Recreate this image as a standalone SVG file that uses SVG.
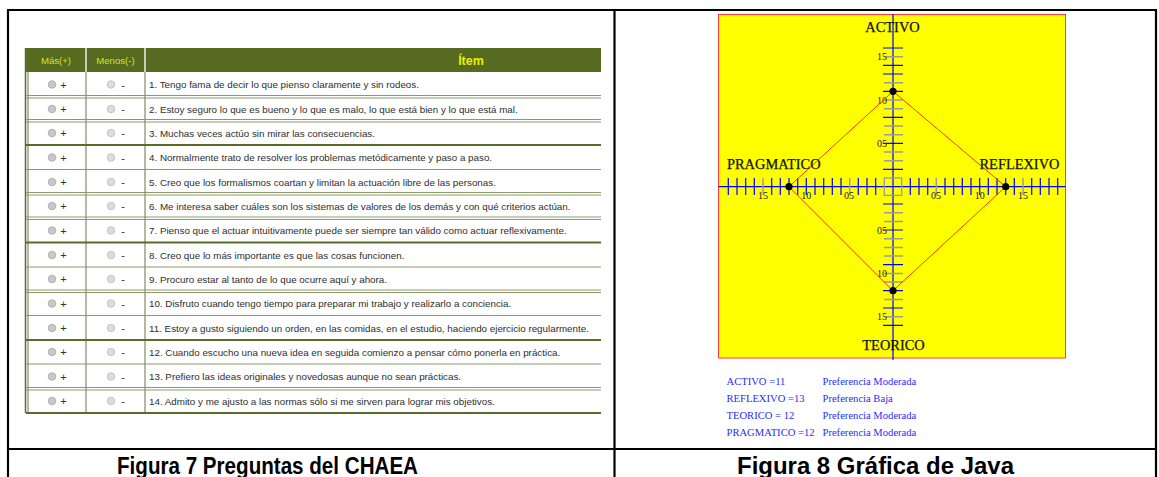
<svg xmlns="http://www.w3.org/2000/svg" width="1159" height="477" viewBox="0 0 1159 477">
<style>
.frame{stroke:#000;stroke-width:2.2;fill:none}
.hdr{font-family:"Liberation Sans",Arial,sans-serif;font-size:9.6px;fill:#d8e020;text-anchor:middle}
.item{font-family:"Liberation Sans",Arial,sans-serif;font-size:12.5px;font-weight:bold;fill:#e6f000;text-anchor:middle}
.row{font-family:"Liberation Sans",Arial,sans-serif;font-size:9.8px;fill:#2e2e2e}
.sym{font-family:"Liberation Sans",Arial,sans-serif;font-size:11px;fill:#333;text-anchor:middle}
.rb1{fill:#c8c8c8;stroke:#a8a8a8;stroke-width:0.8}
.rb2{fill:#dcdcdc;stroke:#bcbcbc;stroke-width:0.8}
.sepd{stroke:#8c9a6a;stroke-width:1;fill:none}
.sepk{stroke:#5a6b2a;stroke-width:2;fill:none}
.sepl{stroke:#8c9a6a;stroke-width:1.2;fill:none}
.col{stroke:#b4b8a4;stroke-width:2;fill:none}
.lbl{font-family:"Liberation Serif","Times New Roman",serif;font-size:14.4px;fill:#111;stroke:#111;stroke-width:0.25}
.tk{font-family:"Liberation Serif","Times New Roman",serif;font-size:10px;fill:#222}
.leg{font-family:"Liberation Serif","Times New Roman",serif;font-size:10.6px;fill:#2a2aff}
.cap{font-family:"Liberation Sans",Arial,sans-serif;font-weight:bold;font-size:24px;fill:#000}
</style>
<rect width="1159" height="477" fill="#fff"/>
<g id="frame">
<path class="frame" d="M7 10H1157M8 10V477M614.5 10V477M1156 10V477M7 449H1157"/>
</g>
<g id="table">
<rect x="25" y="48" width="576" height="24" fill="#566b1f"/>
<path d="M86 48V72M145 48V72" stroke="#c8ccb8" stroke-width="2"/>
<text class="hdr" x="56" y="64">Más(+)</text>
<text class="hdr" x="115.5" y="64">Menos(-)</text>
<text class="item" x="471" y="65">Ítem</text>
<path d="M25.5 48V413" stroke="#5a6b2a" stroke-width="1.5"/>
<path class="col" d="M28 72V413M86 72V413M145 72V413"/>
<g id="separators">
<path class="sepd" d="M26 95.5H601M26 98H601"/>
<path class="sepd" d="M26 119.5H601M26 122H601"/>
<path class="sepk" d="M26 145H601"/>
<path class="sepl" d="M26 169.5H601"/>
<path class="sepd" d="M26 192.5H601M26 195H601"/>
<path class="sepd" d="M26 217H601M26 219.5H601"/>
<path class="sepk" d="M26 242.5H601"/>
<path class="sepl" d="M26 267H601"/>
<path class="sepd" d="M26 290H601M26 292.5H601"/>
<path class="sepl" d="M26 315.5H601"/>
<path class="sepk" d="M26 340H601"/>
<path class="sepl" d="M26 364H601"/>
<path class="sepd" d="M26 387.5H601M26 390H601"/>
<path class="sepk" d="M26 413H601"/>
</g>
<g id="radios">
<circle class="rb1" cx="52" cy="84.5" r="3.8"/><circle class="rb2" cx="111" cy="84.5" r="3.8"/>
<circle class="rb1" cx="52" cy="109" r="3.8"/><circle class="rb2" cx="111" cy="109" r="3.8"/>
<circle class="rb1" cx="52" cy="133" r="3.8"/><circle class="rb2" cx="111" cy="133" r="3.8"/>
<circle class="rb1" cx="52" cy="157.5" r="3.8"/><circle class="rb2" cx="111" cy="157.5" r="3.8"/>
<circle class="rb1" cx="52" cy="182" r="3.8"/><circle class="rb2" cx="111" cy="182" r="3.8"/>
<circle class="rb1" cx="52" cy="206" r="3.8"/><circle class="rb2" cx="111" cy="206" r="3.8"/>
<circle class="rb1" cx="52" cy="230.5" r="3.8"/><circle class="rb2" cx="111" cy="230.5" r="3.8"/>
<circle class="rb1" cx="52" cy="255" r="3.8"/><circle class="rb2" cx="111" cy="255" r="3.8"/>
<circle class="rb1" cx="52" cy="279" r="3.8"/><circle class="rb2" cx="111" cy="279" r="3.8"/>
<circle class="rb1" cx="52" cy="303.5" r="3.8"/><circle class="rb2" cx="111" cy="303.5" r="3.8"/>
<circle class="rb1" cx="52" cy="328" r="3.8"/><circle class="rb2" cx="111" cy="328" r="3.8"/>
<circle class="rb1" cx="52" cy="352" r="3.8"/><circle class="rb2" cx="111" cy="352" r="3.8"/>
<circle class="rb1" cx="52" cy="376.5" r="3.8"/><circle class="rb2" cx="111" cy="376.5" r="3.8"/>
<circle class="rb1" cx="52" cy="401" r="3.8"/><circle class="rb2" cx="111" cy="401" r="3.8"/>
</g>
<g id="signs">
<text class="sym" x="63.5" y="88.5">+</text><text class="sym" x="123" y="88.5">-</text>
<text class="sym" x="63.5" y="113">+</text><text class="sym" x="123" y="113">-</text>
<text class="sym" x="63.5" y="137">+</text><text class="sym" x="123" y="137">-</text>
<text class="sym" x="63.5" y="161.5">+</text><text class="sym" x="123" y="161.5">-</text>
<text class="sym" x="63.5" y="186">+</text><text class="sym" x="123" y="186">-</text>
<text class="sym" x="63.5" y="210">+</text><text class="sym" x="123" y="210">-</text>
<text class="sym" x="63.5" y="234.5">+</text><text class="sym" x="123" y="234.5">-</text>
<text class="sym" x="63.5" y="259">+</text><text class="sym" x="123" y="259">-</text>
<text class="sym" x="63.5" y="283">+</text><text class="sym" x="123" y="283">-</text>
<text class="sym" x="63.5" y="307.5">+</text><text class="sym" x="123" y="307.5">-</text>
<text class="sym" x="63.5" y="332">+</text><text class="sym" x="123" y="332">-</text>
<text class="sym" x="63.5" y="356">+</text><text class="sym" x="123" y="356">-</text>
<text class="sym" x="63.5" y="380.5">+</text><text class="sym" x="123" y="380.5">-</text>
<text class="sym" x="63.5" y="405">+</text><text class="sym" x="123" y="405">-</text>
</g>
<g id="items">
<text class="row" x="149" y="88">1. Tengo fama de decir lo que pienso claramente y sin rodeos.</text>
<text class="row" x="149" y="112.5">2. Estoy seguro lo que es bueno y lo que es malo, lo que está bien y lo que está mal.</text>
<text class="row" x="149" y="136.5">3. Muchas veces actúo sin mirar las consecuencias.</text>
<text class="row" x="149" y="161">4. Normalmente trato de resolver los problemas metódicamente y paso a paso.</text>
<text class="row" x="149" y="185.5">5. Creo que los formalismos coartan y limitan la actuación libre de las personas.</text>
<text class="row" x="149" y="209.5">6. Me interesa saber cuáles son los sistemas de valores de los demás y con qué criterios actúan.</text>
<text class="row" x="149" y="234">7. Pienso que el actuar intuitivamente puede ser siempre tan válido como actuar reflexivamente.</text>
<text class="row" x="149" y="258.5">8. Creo que lo más importante es que las cosas funcionen.</text>
<text class="row" x="149" y="282.5">9. Procuro estar al tanto de lo que ocurre aquí  y ahora.</text>
<text class="row" x="149" y="307">10. Disfruto cuando tengo tiempo para preparar mi trabajo y realizarlo a conciencia.</text>
<text class="row" x="149" y="331.5">11. Estoy a gusto siguiendo un orden, en las comidas, en el estudio, haciendo ejercicio regularmente.</text>
<text class="row" x="149" y="355.5">12. Cuando escucho una nueva idea en seguida comienzo a pensar cómo ponerla en práctica.</text>
<text class="row" x="149" y="380">13. Prefiero las ideas originales y novedosas aunque no sean prácticas.</text>
<text class="row" x="149" y="404.5">14. Admito y me ajusto a las normas sólo si me sirven para lograr mis objetivos.</text>
</g>
</g>
<g id="chart">
<rect x="718.5" y="14.5" width="347" height="343.5" fill="#ffff00" stroke="#ff3a3a" stroke-width="1"/>
<path d="M893 14V360M718.5 186.7H1065.5" stroke="#0000ff" stroke-width="1.2" fill="none"/>
<path stroke="#0000ff" stroke-width="1.2" fill="none" d="M728.3 178V195M737 178V195M745.7 178V195M754.3 178V195M771.7 178V195M780.3 178V195M789 178V195M797.7 178V195M806.3 178V195M815 178V195M823.7 178V195M832.3 178V195M841 178V195M858.3 178V195M867 178V195M875.7 178V195M910.3 178V195M919 178V195M927.7 178V195M945 178V195M953.7 178V195M962.3 178V195M971 178V195M979.7 178V195M988.3 178V195M997 178V195M1005.7 178V195M1014.3 178V195M1031.7 178V195M1040.3 178V195M1049 178V195M1057.7 178V195"/>
<path stroke="#999" stroke-width="1.4" fill="none" d="M763 178V195M849.7 178V195M936.3 178V195M1023 178V195"/>
<path stroke="#0000ff" stroke-width="1.2" fill="none" d="M883 48H903M883 65.4H903M883 74H903M883 91.4H903M883 117.4H903M883 143.4H903M883 169.4H903M883 204H903M883 230H903M883 264.7H903M883 290.7H903M883 308H903M883 325.4H903"/>
<path stroke="#9a9a9a" stroke-width="1.5" fill="none" d="M884 56.7H903M884 82.7H903M884 100H903M884 108.7H903M884 126H903M884 134.7H903M884 152H903M884 160.7H903M884 212.7H903M884 221.4H903M884 238.7H903M884 247.4H903M884 256H903M884 273.4H903M884 282H903M884 299.4H903M884 316.7H903"/>
<rect x="884.3" y="178" width="17.4" height="17.4" fill="none" stroke="#9a9a9a" stroke-width="1.3"/>
<g id="tick-labels">
<text class="tk" x="763" y="198.5" text-anchor="middle">15</text>
<text class="tk" x="806.3" y="198.5" text-anchor="middle">10</text>
<text class="tk" x="849" y="198.5" text-anchor="middle">05</text>
<text class="tk" x="936" y="198.5" text-anchor="middle">05</text>
<text class="tk" x="979.7" y="198.5" text-anchor="middle">10</text>
<text class="tk" x="1023" y="198.5" text-anchor="middle">15</text>
<text class="tk" x="887" y="60.2" text-anchor="end">15</text>
<text class="tk" x="887" y="103.5" text-anchor="end">10</text>
<text class="tk" x="887" y="146.9" text-anchor="end">05</text>
<text class="tk" x="887" y="233.5" text-anchor="end">05</text>
<text class="tk" x="887" y="276.9" text-anchor="end">10</text>
<text class="tk" x="887" y="320.2" text-anchor="end">15</text>
</g>
<polygon points="893,91.3 1005.7,186.7 893,290.7 789,186.7" fill="none" stroke="#ff3c00" stroke-width="1"/>
<g id="points" fill="#000">
<circle cx="893" cy="91.3" r="3.6"/>
<circle cx="1005.7" cy="186.7" r="3.6"/>
<circle cx="893" cy="290.7" r="3.6"/>
<circle cx="789" cy="186.7" r="3.6"/>
</g>
<g id="axis-labels">
<text class="lbl" x="892.5" y="31.5" text-anchor="middle">ACTIVO</text>
<text class="lbl" x="727" y="169">PRAGMATICO</text>
<text class="lbl" x="979.5" y="168.5">REFLEXIVO</text>
<text class="lbl" x="893.5" y="350" text-anchor="middle">TEORICO</text>
</g>
</g>
<g id="legend">
<text class="leg" x="726.5" y="385">ACTIVO =11</text>
<text class="leg" x="822.5" y="385">Preferencia Moderada</text>
<text class="leg" x="726.5" y="402">REFLEXIVO =13</text>
<text class="leg" x="822.5" y="402">Preferencia Baja</text>
<text class="leg" x="726.5" y="419">TEORICO = 12</text>
<text class="leg" x="822.5" y="419">Preferencia Moderada</text>
<text class="leg" x="726.5" y="436">PRAGMATICO =12</text>
<text class="leg" x="822.5" y="436">Preferencia Moderada</text>
</g>
<g id="captions">
<text class="cap" x="117" y="474" textLength="301" lengthAdjust="spacingAndGlyphs">Figura 7 Preguntas del CHAEA</text>
<text class="cap" x="737" y="474" textLength="277" lengthAdjust="spacingAndGlyphs">Figura 8 Gráfica de Java</text>
</g>
</svg>
